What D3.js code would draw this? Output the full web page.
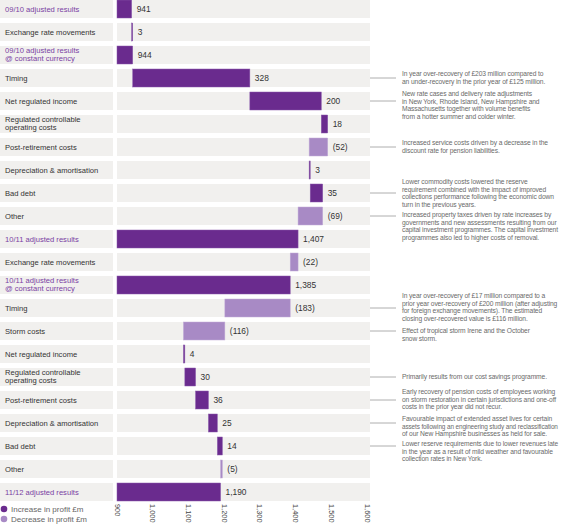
<!DOCTYPE html>
<html>
<head>
<meta charset="utf-8">
<script src="https://cdn.jsdelivr.net/npm/d3@7"></script>
<style>
  body { margin: 0; background: #fff; }
  svg { display: block; font-family: "Liberation Sans", Arial, sans-serif; }
</style>
</head>
<body>
<div id="chart"></div>
<script>
(function () {
    // row labels, top to bottom ("\n" = line break)
    var labels = [
        "09/10 adjusted results", "Exchange rate movements",
        "09/10 adjusted results\n@ constant currency", "Timing", "Net regulated income",
        "Regulated controllable\noperating costs", "Post-retirement costs",
        "Depreciation & amortisation", "Bad debt", "Other",
        "10/11 adjusted results", "Exchange rate movements",
        "10/11 adjusted results\n@ constant currency", "Timing", "Storm costs",
        "Net regulated income", "Regulated controllable\noperating costs",
        "Post-retirement costs", "Depreciation & amortisation", "Bad debt", "Other",
        "11/12 adjusted results"
    ];
    // change in profit £m (totals are absolute levels)
    var values = [941, 3, 944, 328, 200, 18, -52, 3, 35, -69,
        1407, -22, 1385, -183, -116, 4, 30, 36, 25, 14, -5, 1190];
    var isTotal = [true, false, true, false, false, false, false, false, false, false,
        true, false, true, false, false, false, false, false, false, false, false, true];
    var xTicks = [900, 1000, 1100, 1200, 1300, 1400, 1500, 1600];

    // commentary: row index + text lines
    var notes = [
        {row: 3, lines: ["In year over-recovery of £203 million compared to",
            "an under-recovery in the prior year of £125 million."]},
        {row: 4, lines: ["New rate cases and delivery rate adjustments",
            "in New York, Rhode Island, New Hampshire and",
            "Massachusetts together with volume benefits",
            "from a hotter summer and colder winter."]},
        {row: 6, lines: ["Increased service costs driven by a decrease in the",
            "discount rate for pension liabilities."]},
        {row: 8, lines: ["Lower commodity costs lowered the reserve",
            "requirement combined with the impact of improved",
            "collections performance following the economic down",
            "turn in the previous years."]},
        {row: 9, lines: ["Increased property taxes driven by rate increases by",
            "governments and new assessments resulting from our",
            "capital investment programmes. The capital investment",
            "programmes also led to higher costs of removal."]},
        {row: 13, lines: ["In year over-recovery of £17 million compared to a",
            "prior year over-recovery of £200 million (after adjusting",
            "for foreign exchange movements). The estimated",
            "closing over-recovered value is £116 million."]},
        {row: 14, lines: ["Effect of tropical storm Irene and the October",
            "snow storm."]},
        {row: 16, lines: ["Primarily results from our cost savings programme."]},
        {row: 17, lines: ["Early recovery of pension costs of employees working",
            "on storm restoration in certain jurisdictions and one-off",
            "costs in the prior year did not recur."]},
        {row: 18, lines: ["Favourable impact of extended asset lives for certain",
            "assets following an engineering study and reclassification",
            "of our New Hampshire businesses as held for sale."]},
        {row: 19, lines: ["Lower reserve requirements due to lower revenues late",
            "in the year as a result of mild weather and favourable",
            "collection rates in New York."]}
    ];
    // vertical shift of each note's first line vs. its row centre (px)
    var noteShift = [-4, -7, -4, -11, -1, -12, 0, 0, -8, -4, -2];

    var width = 563, height = 525;
    var colUp = "#6a2b8e", colDown = "#a88ac5", bandCol = "#f1f0ee";
    var labelCol = "#7a3fa3", textCol = "#333";

    var svg = d3.select("#chart").append("svg")
        .attr("width", width).attr("height", height);

    var x = d3.scaleLinear().domain([900, 1600]).range([117, 367]);
    var y = d3.scaleBand().domain(d3.range(labels.length))
        .range([0, labels.length * 23 - 5]).paddingInner(5 / 23);

    // compute bar extents
    var rows = [];
    var level = 0;
    for (var i = 0; i < values.length; i++) {
        var r = {i: i, label: labels[i], v: values[i], total: isTotal[i]};
        if (r.total) {
            r.x0 = 900; r.x1 = r.v; level = r.v;
        } else {
            r.x0 = level; r.x1 = level + r.v; level = r.x1;
        }
        rows.push(r);
    }

    // background bands
    svg.append("g").selectAll("rect.lb").data(rows).enter().append("rect")
        .attr("x", 0).attr("width", 113)
        .attr("y", function (d) { return y(d.i); })
        .attr("height", y.bandwidth()).attr("fill", bandCol);
    svg.append("g").selectAll("rect.pb").data(rows).enter().append("rect")
        .attr("x", 117).attr("width", 370 - 117)
        .attr("y", function (d) { return y(d.i); })
        .attr("height", y.bandwidth()).attr("fill", bandCol);

    // row labels
    var lab = svg.append("g").selectAll("text").data(rows).enter().append("text")
        .attr("font-size", 7.6)
        .attr("fill", function (d) { return d.total ? labelCol : textCol; })
        .attr("y", function (d) { return y(d.i) + y.bandwidth() / 2; });
    lab.each(function (d) {
        var parts = d.label.split("\n");
        var t = d3.select(this);
        parts.forEach(function (p, k) {
            t.append("tspan").attr("x", 5)
                .attr("dy", k === 0 ? (parts.length === 1 ? "0.35em" : (0.35 - 0.55) + "em") : "1.05em")
                .text(p);
        });
    });

    // bars
    svg.append("g").selectAll("rect").data(rows).enter().append("rect")
        .attr("x", function (d) { return x(Math.min(d.x0, d.x1)); })
        .attr("width", function (d) { return Math.max(1, Math.abs(x(d.x1) - x(d.x0))); })
        .attr("y", function (d) { return y(d.i); })
        .attr("height", y.bandwidth())
        .attr("fill", function (d) { return d.v < 0 ? colDown : colUp; })
        .attr("stroke", function (d) { return d.v < 0 ? "#c2acd8" : "#8a5aab"; })
        .attr("stroke-width", 0.5);

    // value labels
    var fmt = d3.format(",");
    svg.append("g").selectAll("text").data(rows).enter().append("text")
        .attr("x", function (d) { return x(Math.max(d.x0, d.x1)) + 5; })
        .attr("y", function (d) { return y(d.i) + y.bandwidth() / 2; })
        .attr("dy", "0.35em")
        .attr("font-size", 8.4).attr("fill", textCol)
        .text(function (d) { return d.v < 0 ? "(" + fmt(-d.v) + ")" : fmt(d.v); });

    // x axis: rotated tick labels under the plot
    var axisY = y(labels.length - 1) + y.bandwidth() + 3;
    svg.append("g").selectAll("text").data(xTicks).enter().append("text")
        .attr("transform", function (d) { return "translate(" + (x(d) - 2.5) + "," + axisY + ") rotate(90)"; })
        .attr("font-size", 7.4).attr("fill", "#444")
        .text(function (d) { return fmt(d); });

    // notes with leader lines
    var ng = svg.append("g");
    var noteX = 402, maxW = 156, noteFs = 6.7;
    notes.forEach(function (n, k) {
        var cy = y(n.row) + y.bandwidth() / 2;
        ng.append("line").attr("x1", 370).attr("x2", 396)
            .attr("y1", cy).attr("y2", cy)
            .attr("stroke", "#999").attr("stroke-width", 0.8);
        var t = ng.append("text").attr("font-size", noteFs).attr("fill", "#6a6a6a")
            .attr("y", cy + noteShift[k]);
        n.lines.forEach(function (line, j) {
            var ts = t.append("tspan").attr("x", noteX)
                .attr("letter-spacing", -0.12)
                .attr("dy", j === 0 ? "0.35em" : 7.5).text(line);
            // shrink any line that would run past the right edge
            var len = ts.node().getComputedTextLength();
            if (len > maxW) {
                ts.attr("font-size", (noteFs * maxW / len).toFixed(2));
            }
        });
    });

    // legend
    var legend = [{label: "Increase in profit £m", c: colUp}, {label: "Decrease in profit £m", c: colDown}];
    var lg = svg.append("g").selectAll("g").data(legend).enter().append("g")
        .attr("transform", function (d, i) { return "translate(0," + (509 + i * 10) + ")"; });
    lg.append("circle").attr("cx", 4).attr("cy", 0).attr("r", 3.3)
        .attr("fill", function (d) { return d.c; });
    lg.append("text").attr("x", 11).attr("dy", "0.35em")
        .attr("font-size", 8).attr("fill", "#666")
        .text(function (d) { return d.label; });
})();
</script>
</body>
</html>
